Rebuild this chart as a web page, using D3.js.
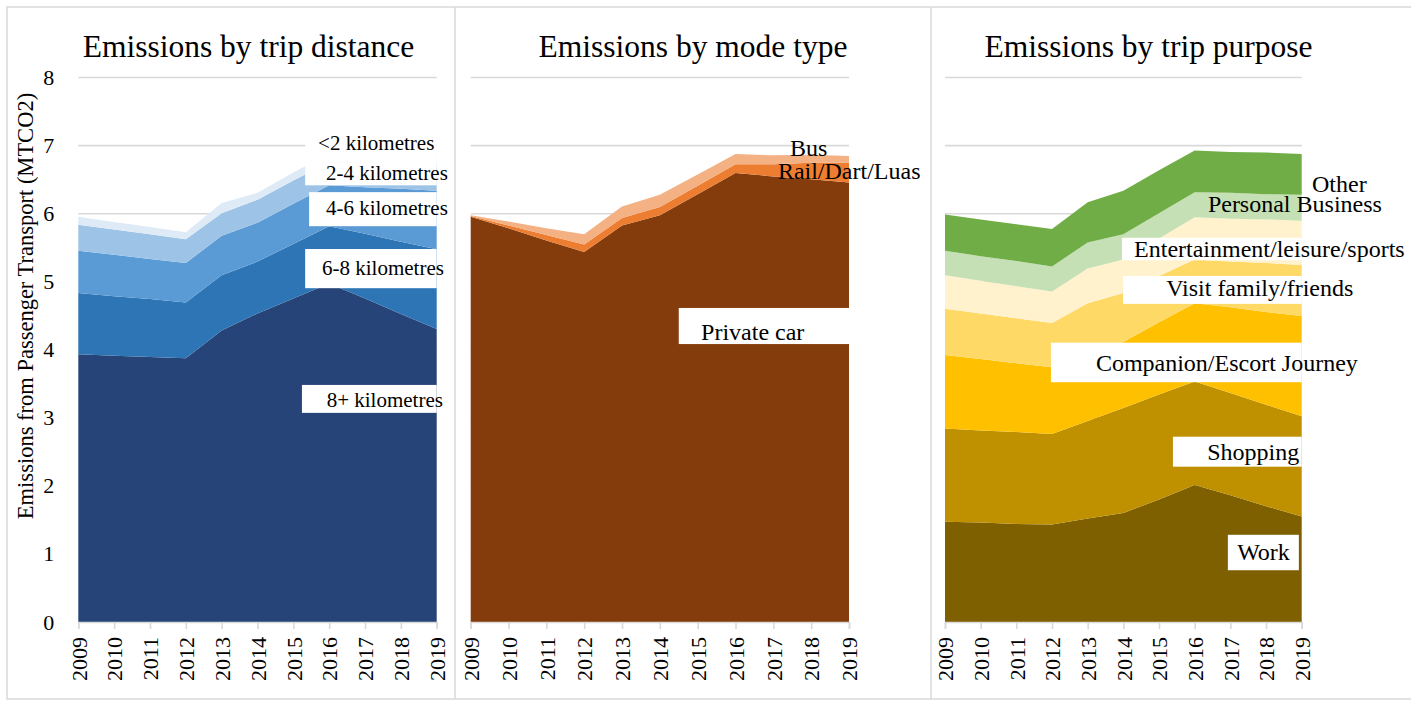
<!DOCTYPE html>
<html><head><meta charset="utf-8">
<script src="https://cdn.jsdelivr.net/npm/d3@7"></script>
<style>
body{margin:0;background:#fff}
svg{display:block}
text{font-family:"Liberation Serif","Times New Roman",serif;fill:#000}
</style>
</head><body>
<svg id="c" width="1411" height="709"></svg>
<script>
// ---------- DATA ----------
const years = [2009, 2010, 2011, 2012, 2013, 2014, 2015, 2016, 2017, 2018, 2019];
const yTicks = [0, 1, 2, 3, 4, 5, 6, 7, 8];
const yAxisTitle = "Emissions from Passenger Transport (MTCO2)";

// Panel 1: by trip distance (stack order bottom -> top)
const distanceKeys = ["8+ kilometres", "6-8 kilometres", "4-6 kilometres", "2-4 kilometres", "<2 kilometres"];
const dist8plus = [3.93, 3.91, 3.89, 3.87, 4.28, 4.53, 4.75, 4.97, 4.75, 4.52, 4.30];
const dist6to8  = [0.90, 0.87, 0.85, 0.82, 0.81, 0.76, 0.80, 0.84, 0.95, 1.06, 1.17];
const dist4to6  = [0.62, 0.61, 0.59, 0.58, 0.58, 0.57, 0.59, 0.60, 0.68, 0.78, 0.86];
const dist2to4  = [0.38, 0.37, 0.36, 0.35, 0.33, 0.34, 0.34, 0.34, 0.36, 0.37, 0.39];
const distUnder2= [0.12, 0.11, 0.11, 0.10, 0.15, 0.10, 0.12, 0.13, 0.12, 0.11, 0.10];
const distanceColors = ["#264478", "#2E75B6", "#5B9BD5", "#9DC3E6", "#DEEBF7"];

// Panel 2: by mode type
const modeKeys = ["Private car", "Rail/Dart/Luas", "Bus"];
const modeCar  = [5.95, 5.78, 5.60, 5.43, 5.82, 5.97, 6.28, 6.59, 6.54, 6.50, 6.45];
const modeRail = [0.01, 0.04, 0.08, 0.11, 0.11, 0.12, 0.125, 0.13, 0.18, 0.24, 0.29];
const modeBus  = [0.01, 0.06, 0.10, 0.15, 0.17, 0.18, 0.165, 0.15, 0.13, 0.12, 0.10];
const modeColors = ["#843C0C", "#ED7D31", "#F4B183"];

// Panel 3: by trip purpose
const purposeKeys = ["Work", "Shopping", "Companion/Escort Journey", "Visit family/friends",
  "Entertainment/leisure/sports", "Personal Business", "Other"];
const purWork    = [1.47, 1.46, 1.44, 1.43, 1.52, 1.60, 1.80, 2.01, 1.86, 1.70, 1.55];
const purShop    = [1.37, 1.35, 1.35, 1.33, 1.43, 1.54, 1.54, 1.52, 1.50, 1.49, 1.47];
const purCompan  = [1.08, 1.05, 1.01, 0.98, 0.97, 0.97, 1.06, 1.15, 1.26, 1.36, 1.47];
const purVisit   = [0.68, 0.67, 0.66, 0.65, 0.76, 0.72, 0.68, 0.64, 0.67, 0.72, 0.75];
const purEnt     = [0.49, 0.48, 0.47, 0.46, 0.51, 0.49, 0.55, 0.62, 0.63, 0.64, 0.65];
const purPersBus = [0.36, 0.36, 0.37, 0.37, 0.38, 0.37, 0.37, 0.37, 0.38, 0.37, 0.38];
const purOther   = [0.53, 0.54, 0.54, 0.55, 0.59, 0.64, 0.63, 0.61, 0.60, 0.61, 0.60];
const purposeColors = ["#7F6000", "#BF9000", "#FFC000", "#FFD966", "#FFF2CC", "#C5E0B4", "#70AD47"];

// Series labels placed in data space: box [yearFrom, yearTo] x [valueLow, valueHigh], text at (year, value)
const distanceLabels = [
  {text: "<2 kilometres",  box: [2015.33, 2019, 6.75, 7.18], at: [2015.69, 6.93]},
  {text: "2-4 kilometres", box: [2015.33, 2019, 6.41, 6.75], at: [2015.91, 6.49]},
  {text: "4-6 kilometres", box: [2015.44, 2019, 5.81, 6.31], at: [2015.91, 5.97]},
  {text: "6-8 kilometres", box: [2015.33, 2019, 4.90, 5.475], at: [2015.80, 5.09]},
  {text: "8+ kilometres",  box: [2015.24, 2019, 3.07, 3.48], at: [2015.93, 3.16]}
];
const modeLabels = [
  {text: "Bus",            box: null, at: [2017.44, 6.84]},
  {text: "Rail/Dart/Luas", box: null, at: [2017.12, 6.51]},
  {text: "Private car",    box: [2014.50, 2019, 4.08, 4.61], at: [2015.09, 4.14]}
];
const purposeLabels = [
  {text: "Other",             box: null, at: [2019.29, 6.31]},
  {text: "Personal Business", box: null, at: [2016.37, 6.02]},
  {text: "Entertainment/leisure/sports", box: [2013.96, 2019, 5.31, 5.64], at: [2014.30, 5.36]},
  {text: "Visit family/friends",         box: [2013.99, 2019, 4.67, 5.08], at: [2015.20, 4.78]},
  {text: "Companion/Escort Journey",     box: [2011.97, 2019, 3.52, 4.10], at: [2013.23, 3.69]},
  {text: "Shopping",                     box: [2015.39, 2019, 2.28, 2.72], at: [2016.35, 2.38]},
  {text: "Work",                         box: [2016.93, 2018.92, 0.76, 1.28], at: [2017.19, 0.91]}
];

// ---------- DRAW ----------
const svg = d3.select("#c");
const grey = "#D9D9D9";

// frame and separators
svg.append("rect").attr("x", 7).attr("y", 7).attr("width", 1420).attr("height", 692)
  .attr("fill", "none").attr("stroke", grey).attr("stroke-width", 1.5);
[455, 931].forEach(x => svg.append("line").attr("x1", x).attr("x2", x).attr("y1", 7).attr("y2", 699)
  .attr("stroke", grey).attr("stroke-width", 1.5));

const y = d3.scaleLinear().domain([0, 8]).range([622, 77]);

function buildRows(keys, arrays) {
  return years.map((yr, i) => {
    const r = {year: yr};
    keys.forEach((k, j) => r[k] = arrays[j][i]);
    return r;
  });
}

const panels = [
  {x0: 78.3, x1: 436.7, title: "Emissions by trip distance", titleX: 248.5, keys: distanceKeys,
   arrays: [dist8plus, dist6to8, dist4to6, dist2to4, distUnder2], colors: distanceColors,
   labels: distanceLabels, labelSize: 21, yAxis: true},
  {x0: 470.7, x1: 849, title: "Emissions by mode type", titleX: 693, keys: modeKeys,
   arrays: [modeCar, modeRail, modeBus], colors: modeColors, labels: modeLabels, labelSize: 24, yAxis: false},
  {x0: 945, x1: 1301.7, title: "Emissions by trip purpose", titleX: 1148.5, keys: purposeKeys,
   arrays: [purWork, purShop, purCompan, purVisit, purEnt, purPersBus, purOther], colors: purposeColors,
   labels: purposeLabels, labelSize: 24, yAxis: false}
];

panels.forEach(p => {
  const g = svg.append("g");
  const x = d3.scaleLinear().domain([years[0], years[years.length - 1]]).range([p.x0, p.x1]);

  // title
  g.append("text").attr("x", p.titleX).attr("y", 57).attr("text-anchor", "middle")
    .style("font-size", "31.5px").text(p.title);

  // gridlines
  const grid = g.append("g").attr("transform", `translate(${p.x0},0)`)
    .call(d3.axisLeft(y).tickValues(yTicks.filter(t => t > 0)).tickSize(-(p.x1 - p.x0)).tickFormat(""));
  grid.select(".domain").remove();
  grid.selectAll("line").attr("stroke", grey).attr("stroke-width", 1.6);

  // y tick labels
  if (p.yAxis) {
    const ya = g.append("g").attr("transform", `translate(${p.x0},0)`)
      .call(d3.axisLeft(y).tickValues(yTicks).tickSize(0).tickPadding(24).tickFormat(d3.format("d")));
    ya.select(".domain").remove();
    ya.selectAll("text").style("font-size", "22px").style("font-family", '"Liberation Serif",serif').attr("fill", "#000");
    g.append("text").attr("transform", `translate(33,306) rotate(-90)`).attr("text-anchor", "middle")
      .style("font-size", "22.5px").text(yAxisTitle);
  }

  // stacked areas
  const rows = buildRows(p.keys, p.arrays);
  const series = d3.stack().keys(p.keys)(rows);
  const area = d3.area().x(d => x(d.data.year)).y0(d => y(d[0])).y1(d => y(d[1])).curve(d3.curveLinear);
  g.append("g").selectAll("path").data(series).join("path")
    .attr("d", area).attr("fill", (d, i) => p.colors[i]);

  // x axis
  const xa = g.append("g").attr("transform", "translate(0,622)")
    .call(d3.axisBottom(x).tickValues(years).tickSize(7).tickFormat(d3.format("d")));
  xa.select(".domain").attr("stroke", grey).attr("stroke-width", 1.6);
  xa.selectAll(".tick line").attr("stroke", grey).attr("stroke-width", 1.6);
  xa.selectAll("text").attr("transform", "rotate(-90)").attr("x", -15).attr("y", 0).attr("dy", "0.35em")
    .attr("text-anchor", "end").attr("fill", "#000")
    .style("font-size", "22px").style("font-family", '"Liberation Serif",serif');

  // labels
  const lg = g.append("g");
  p.labels.forEach(l => {
    if (l.box) {
      lg.append("rect").attr("x", x(l.box[0])).attr("y", y(l.box[3]))
        .attr("width", x(l.box[1]) - x(l.box[0])).attr("height", y(l.box[2]) - y(l.box[3]))
        .attr("fill", "#fff");
    }
  });
  p.labels.forEach(l => {
    lg.append("text").attr("x", x(l.at[0])).attr("y", y(l.at[1]))
      .style("font-size", p.labelSize + "px").text(l.text);
  });
});
</script>
</body></html>
